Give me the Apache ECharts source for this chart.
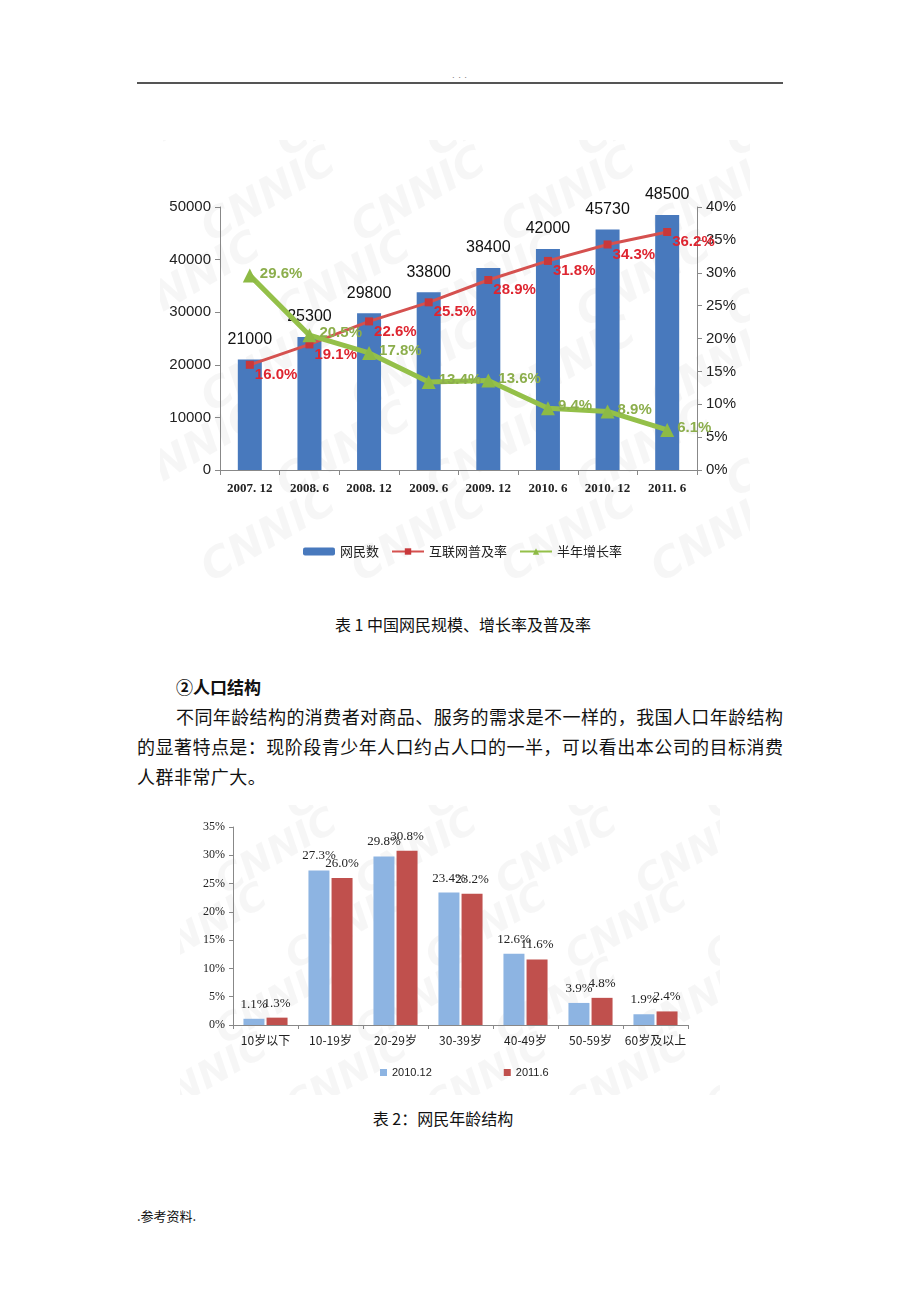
<!DOCTYPE html>
<html>
<head>
<meta charset="utf-8">
<script src="https://cdn.jsdelivr.net/npm/echarts@6/dist/echarts.min.js"></script>
<style>
  html, body { margin:0; padding:0; background:#fff; }
  body { width:920px; height:1302px; position:relative; overflow:hidden;
         font-family:"Noto Sans CJK SC","Noto Sans",sans-serif; color:#111; }
  .abs { position:absolute; white-space:nowrap; }
  .hr { position:absolute; left:137px; top:82px; width:646px; height:0; border-top:2px solid #555; }
  .dots { left:450px; top:70px; width:20px; text-align:center; font-size:8px; color:#777; line-height:10px; letter-spacing:1px; }
  .cap { font-size:16px; line-height:24px; }
  .para { font-size:18px; line-height:30px; text-align:justify; text-align-last:justify; }
  #c1 { position:absolute; left:160px; top:140px; width:590px; height:450px; }
  #c2 { position:absolute; left:180px; top:805px; width:540px; height:290px; }
</style>
</head>
<body>
<div class="abs dots">. . .</div>
<div class="hr"></div>
<div id="c1"></div>
<div class="abs cap" style="left:313px;top:612px;width:300px;text-align:center;">表 1 中国网民规模、增长率及普及率</div>
<div class="abs" style="left:176px;top:674px;font-size:17px;font-weight:bold;line-height:26px;">②人口结构</div>
<div class="abs para" style="left:176px;top:701px;width:607px;">不同年龄结构的消费者对商品、服务的需求是不一样的，我国人口年龄结构</div>
<div class="abs para" style="left:137px;top:731px;width:646px;">的显著特点是：现阶段青少年人口约占人口的一半，可以看出本公司的目标消费</div>
<div class="abs" style="left:137px;top:761px;font-size:18px;line-height:30px;letter-spacing:0.45px;">人群非常广大。</div>
<div id="c2"></div>
<div class="abs cap" style="left:343px;top:1106px;width:200px;text-align:center;">表 2：网民年龄结构</div>
<div class="abs" style="left:137px;top:1206px;font-size:13px;line-height:20px;">.参考资料.</div>

<script>
// ---------- Chart 1 data ----------
const periods = ['2007. 12','2008. 6','2008. 12','2009. 6','2009. 12','2010. 6','2010. 12','2011. 6'];
const netizens = [21000, 25300, 29800, 33800, 38400, 42000, 45730, 48500];
const penetrationRate = [16.0, 19.1, 22.6, 25.5, 28.9, 31.8, 34.3, 36.2];
const halfYearGrowth = [29.6, 20.5, 17.8, 13.4, 13.6, 9.4, 8.9, 6.1];
const seriesNames1 = ['网民数', '互联网普及率', '半年增长率'];

// ---------- Chart 2 data ----------
const ageGroups = ['10岁以下','10-19岁','20-29岁','30-39岁','40-49岁','50-59岁','60岁及以上'];
const age201012 = [1.1, 27.3, 29.8, 23.4, 12.6, 3.9, 1.9];
const age20116 = [1.3, 26.0, 30.8, 23.2, 11.6, 4.8, 2.4];
const seriesNames2 = ['2010.12', '2011.6'];

function watermarks(w, h, stepX, stepY, size) {
  const els = [];
  let row = 0;
  for (let y = -10; y < h + 40; y += stepY) {
    const shift = (row % 2) * stepX / 2;
    for (let x = -40 + shift; x < w + 40; x += stepX) {
      els.push({
        type: 'text', x: x, y: y, rotation: Math.PI / 6, z: -10, silent: true,
        style: { text: 'CNNIC', fill: 'rgba(0,0,0,0.035)', font: 'italic bold ' + size + 'px "DejaVu Sans"' }
      });
    }
    row++;
  }
  return els;
}

const c1 = echarts.init(document.getElementById('c1'), null, { renderer: 'canvas' });
c1.setOption({
  animation: false,
  backgroundColor: '#fff',
  graphic: watermarks(590, 450, 150, 85, 42),
  grid: { left: 60, right: 53, top: 67, bottom: 120 },
  legend: {
    data: seriesNames1, left: 138, top: 400, itemWidth: 32, itemHeight: 8, itemGap: 12,
    textStyle: { fontSize: 13, color: '#222', fontFamily: '"Noto Sans CJK SC"' }
  },
  xAxis: {
    type: 'category', data: periods,
    axisLine: { lineStyle: { color: '#888', width: 1 } },
    axisTick: { show: true, lineStyle: { color: '#888' }, length: 5 },
    axisLabel: { interval: 0, color: '#222', fontSize: 13, margin: 12, fontFamily: '"Liberation Serif"', fontWeight: 'bold' }
  },
  yAxis: [
    { type: 'value', min: 0, max: 50000, interval: 10000,
      axisLine: { show: true, lineStyle: { color: '#888' } },
      axisTick: { show: true, lineStyle: { color: '#888' }, length: 5 },
      splitLine: { show: false },
      axisLabel: { color: '#222', fontSize: 15, fontFamily: '"Liberation Sans", Arial', margin: 9,
        formatter: v => String(v) } },
    { type: 'value', min: 0, max: 40, interval: 5, position: 'right',
      axisLine: { show: true, lineStyle: { color: '#888' } },
      axisTick: { show: true, lineStyle: { color: '#888' }, length: 5 },
      splitLine: { show: false },
      axisLabel: { color: '#222', fontSize: 15, fontFamily: '"Liberation Sans", Arial', margin: 9, formatter: '{value}%' } }
  ],
  series: [
    { name: seriesNames1[0], type: 'bar', data: netizens, barWidth: 24, z: 2,
      itemStyle: { color: '#4879BD' },
      label: { show: true, position: 'top', distance: 12, color: '#111', fontSize: 16, fontFamily: '"Liberation Sans", Arial' } },
    { name: seriesNames1[1], type: 'line', yAxisIndex: 1, data: penetrationRate, z: 3,
      symbol: 'rect', symbolSize: 8,
      lineStyle: { color: '#D5514F', width: 3 }, itemStyle: { color: '#C8383B' },
      label: { show: true, position: 'right', distance: 1, offset: [0, 10],
        formatter: p => p.value.toFixed(1) + '%', color: '#DE2530', fontSize: 15, fontWeight: 'bold',
        fontFamily: '"Liberation Sans", Arial' } },
    { name: seriesNames1[2], type: 'line', yAxisIndex: 1, data: halfYearGrowth, z: 4,
      symbol: 'triangle', symbolSize: 14,
      lineStyle: { color: '#94C049', width: 5 }, itemStyle: { color: '#8DBA45' },
      label: { show: true, position: 'right', distance: 3, offset: [0, -2],
        formatter: p => p.value.toFixed(1) + '%', color: '#8CAE4C', fontSize: 15, fontWeight: 'bold',
        fontFamily: '"Liberation Sans", Arial' } }
  ]
});

const c2 = echarts.init(document.getElementById('c2'), null, { renderer: 'canvas' });
c2.setOption({
  animation: false,
  backgroundColor: '#fff',
  graphic: watermarks(540, 290, 140, 75, 38),
  grid: { left: 53, right: 32, top: 22, bottom: 70 },
  legend: {
    data: seriesNames2, left: 195, top: 257, itemWidth: 7, itemHeight: 7, itemGap: 72, icon: 'rect',
    textStyle: { fontSize: 11, color: '#222', fontFamily: '"Liberation Sans", Arial' }
  },
  xAxis: {
    type: 'category', data: ageGroups,
    axisLine: { lineStyle: { color: '#888' } },
    axisTick: { show: true, lineStyle: { color: '#888' }, length: 4 },
    axisLabel: { interval: 0, color: '#222', fontSize: 12, margin: 9, fontFamily: '"Noto Sans CJK SC"' }
  },
  yAxis: {
    type: 'value', min: 0, max: 35, interval: 5,
    axisLine: { show: true, lineStyle: { color: '#888' } },
    axisTick: { show: true, lineStyle: { color: '#888' }, length: 4 },
    splitLine: { show: false },
    axisLabel: { color: '#222', fontSize: 12, margin: 8, fontFamily: '"Liberation Serif"', formatter: '{value}%' }
  },
  series: [
    { name: seriesNames2[0], type: 'bar', data: age201012, barWidth: 21, barGap: '10%',
      itemStyle: { color: '#8DB4E2' },
      label: { show: true, position: 'top', distance: 8, color: '#222', fontSize: 13,
        fontFamily: '"Liberation Serif"', formatter: p => p.value.toFixed(1) + '%' } },
    { name: seriesNames2[1], type: 'bar', data: age20116, barWidth: 21, barGap: '10%',
      itemStyle: { color: '#C0504D' },
      label: { show: true, position: 'top', distance: 8, color: '#222', fontSize: 13,
        fontFamily: '"Liberation Serif"', formatter: p => p.value.toFixed(1) + '%' } }
  ]
});
</script>
</body>
</html>
